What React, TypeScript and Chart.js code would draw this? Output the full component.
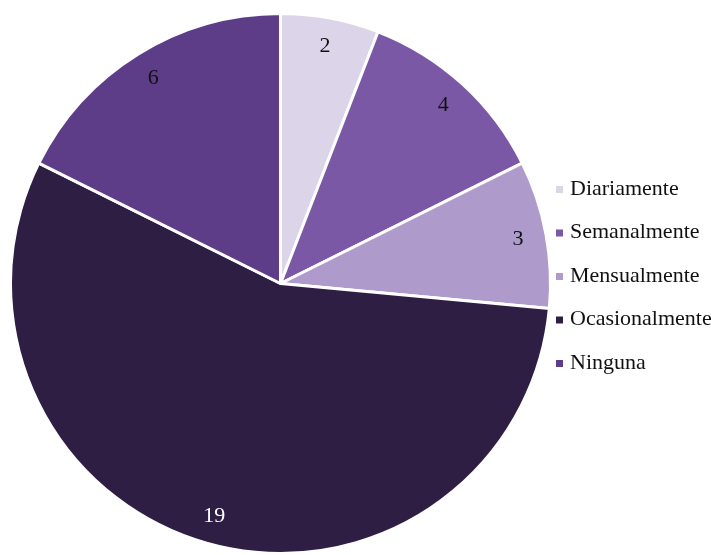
import React, { useEffect, useRef } from "react";
import { Chart, registerables } from "chart.js";

Chart.register(...registerables);

const categories = ["Diariamente", "Semanalmente", "Mensualmente", "Ocasionalmente", "Ninguna"];
const values = [2, 4, 3, 19, 6];
const colors = ["#DCD4E8", "#7A58A6", "#AE9ACB", "#2F1E44", "#5E3D88"];
const labelColors = ["#111111", "#111111", "#111111", "#ffffff", "#111111"];

const FONT = '"Liberation Serif", "Times New Roman", serif';

const labelsPlugin = {
  id: "sliceLabels",
  afterDatasetsDraw(chart: any) {
    const ctx = chart.ctx;
    const meta = chart.getDatasetMeta(0);
    ctx.save();
    ctx.font = `22px ${FONT}`;
    ctx.textAlign = "center";
    ctx.textBaseline = "middle";
    meta.data.forEach((arc: any, i: number) => {
      const { x, y, startAngle, endAngle, outerRadius } = arc.getProps(
        ["x", "y", "startAngle", "endAngle", "outerRadius"],
        true
      );
      const mid = (startAngle + endAngle) / 2;
      const r = outerRadius * 0.895;
      ctx.fillStyle = labelColors[i];
      ctx.fillText(String(values[i]), x + Math.cos(mid) * r, y + Math.sin(mid) * r);
    });
    ctx.restore();
  },
};

const legendPlugin = {
  id: "customLegend",
  afterDraw(chart: any) {
    const ctx = chart.ctx;
    ctx.save();
    ctx.font = `22px ${FONT}`;
    ctx.textBaseline = "middle";
    ctx.textAlign = "left";
    const x0 = 556;
    const y0 = 189;
    const step = 43.5;
    categories.forEach((c, i) => {
      const y = y0 + i * step;
      ctx.fillStyle = colors[i];
      ctx.fillRect(x0, y - 3, 7, 7);
      ctx.fillStyle = "#111111";
      ctx.fillText(c, x0 + 14, y);
    });
    ctx.restore();
  },
};

export default function App() {
  const ref = useRef<HTMLCanvasElement | null>(null);
  useEffect(() => {
    if (!ref.current) return;
    const chart = new Chart(ref.current, {
      type: "pie",
      data: {
        labels: categories,
        datasets: [
          {
            data: values,
            backgroundColor: colors,
            borderColor: "#ffffff",
            borderWidth: 3,
          },
        ],
      },
      options: {
        animation: false,
        responsive: false,
        maintainAspectRatio: false,
        layout: { padding: { left: 9, top: 12, right: 159, bottom: 0 } },
        plugins: {
          legend: { display: false },
          tooltip: { enabled: false },
        },
      },
      plugins: [labelsPlugin, legendPlugin],
    });
    return () => chart.destroy();
  }, []);
  return (
    <div style={{ position: "fixed", left: 0, top: 0, width: 711, height: 555, background: "#fff" }}>
      <canvas ref={ref} width={711} height={555} style={{ width: 711, height: 555 }} />
    </div>
  );
}
